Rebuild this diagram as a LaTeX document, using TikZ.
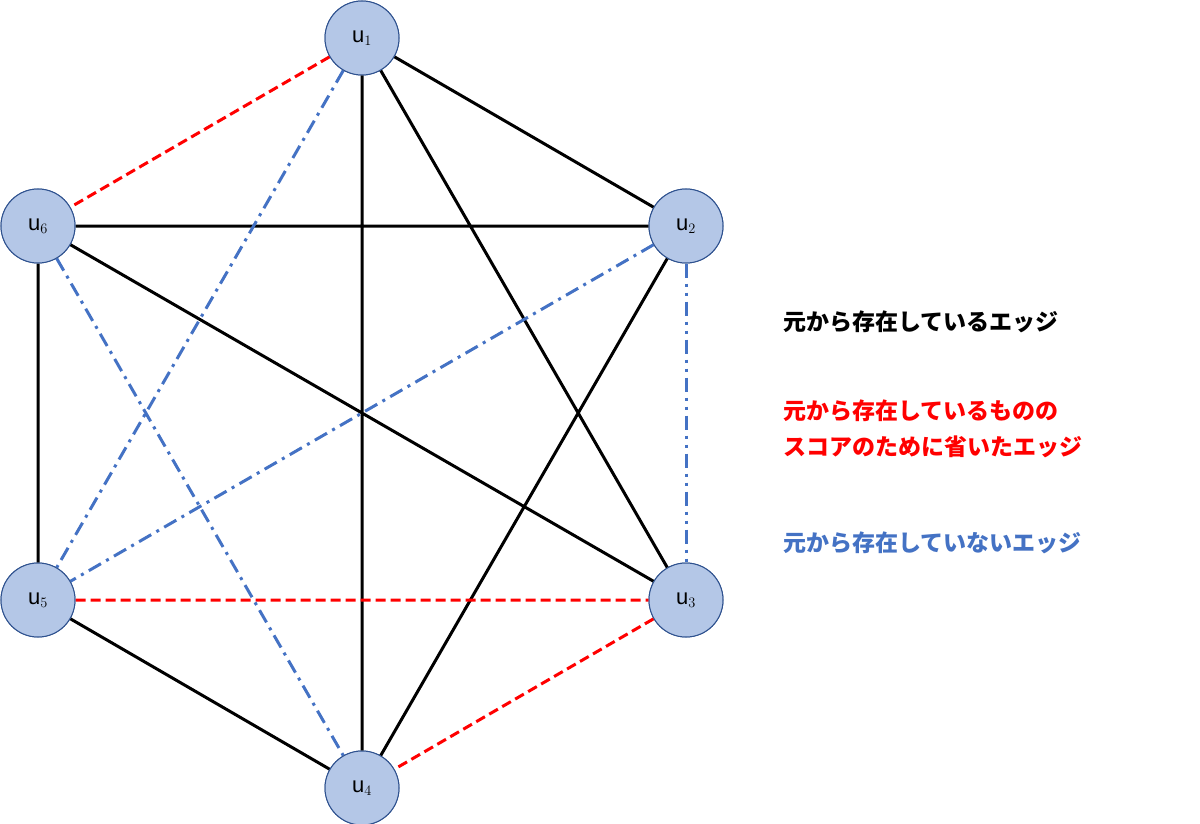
\documentclass[tikz,border=0pt]{standalone}
\usepackage{fontspec}
\setmainfont{Liberation Sans}
\newfontfamily\cjk{Noto Sans CJK JP}
\definecolor{nfill}{HTML}{B4C7E7}
\definecolor{nline}{HTML}{2F528F}
\definecolor{bl}{HTML}{4472C4}
\begin{document}
\begin{tikzpicture}[x=1pt,y=-1pt,
  vtx/.style={circle,draw=nline,fill=nfill,line width=1pt,minimum size=74pt,inner sep=0pt,font=\fontsize{22}{24}\selectfont},
  ex/.style={line width=3pt,black},
  rd/.style={line width=3pt,red,dash pattern=on 10pt off 5pt},
  bd/.style={line width=3pt,bl,dash pattern=on 14pt off 6pt on 3pt off 6pt},
  bdd/.style={line width=3pt,bl,dash pattern=on 14pt off 6pt on 3pt off 6pt on 3pt off 6pt},
  lg/.style={anchor=west,font=\cjk\bfseries\fontsize{23}{36}\selectfont,align=left}]
\useasboundingbox (0,0) rectangle (1200,824);
\path (362,38) node[vtx] (u1) {u$_1$}
      (686,226) node[vtx] (u2) {u$_2$}
      (686,600) node[vtx] (u3) {u$_3$}
      (362,788) node[vtx] (u4) {u$_4$}
      (38,600) node[vtx] (u5) {u$_5$}
      (38,226) node[vtx] (u6) {u$_6$};
\begin{scope}[on background layer/.style={}]
\end{scope}
\draw[ex] (u1)--(u2) (u1)--(u3) (u1)--(u4) (u6)--(u2) (u6)--(u3) (u6)--(u5) (u2)--(u4) (u5)--(u4);
\draw[rd] (u1)--(u6) (u5)--(u3) (u3)--(u4);
\draw[bd] (u1)--(u5) (u6)--(u4) (u2)--(u5);
\draw[bdd] (u2)--(u3);
\path (362,38) node[vtx] {u$_1$}
      (686,226) node[vtx] {u$_2$}
      (686,600) node[vtx] {u$_3$}
      (362,788) node[vtx] {u$_4$}
      (38,600) node[vtx] {u$_5$}
      (38,226) node[vtx] {u$_6$};
\node[lg] (l1) at (780,322) {元から存在しているエッジ};
\node[lg,red] (l2) at (780,429) {元から存在しているものの\\スコアのために省いたエッジ};
\node[lg,bl] (l3) at (780,543) {元から存在していないエッジ};
\end{tikzpicture}
\end{document}
